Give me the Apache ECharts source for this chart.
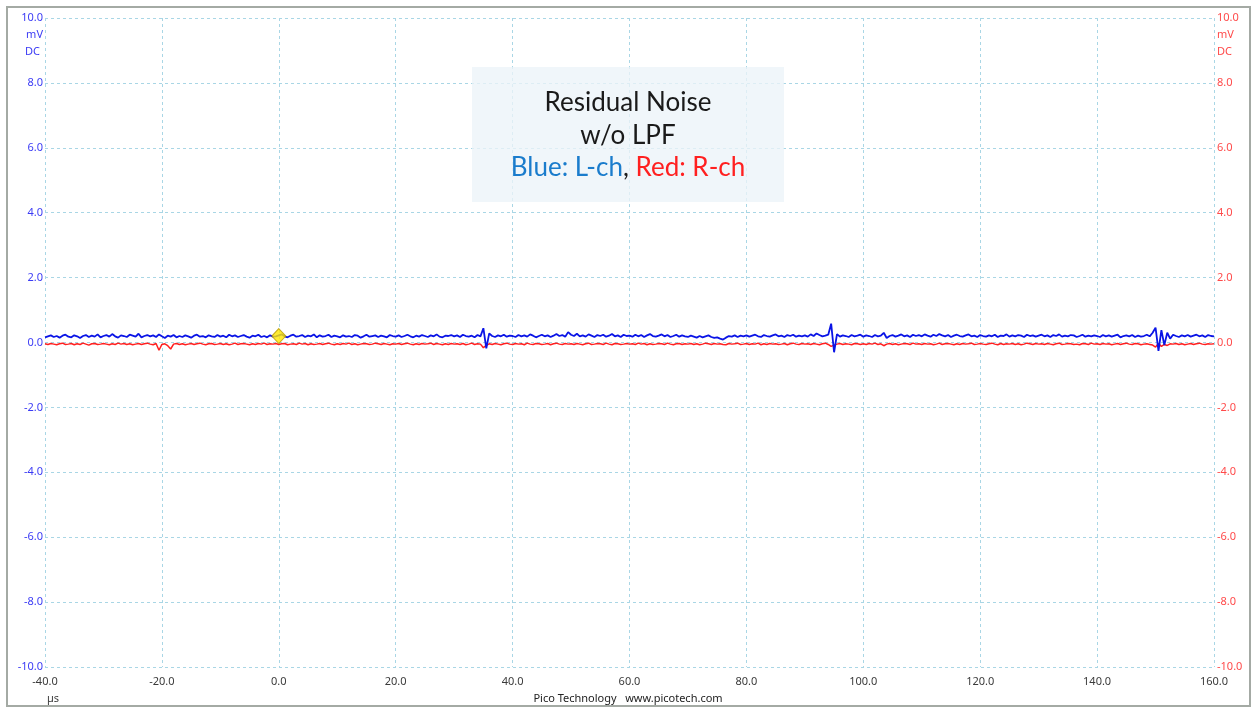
<!DOCTYPE html>
<html>
<head>
<meta charset="utf-8">
<script src="https://cdn.jsdelivr.net/npm/echarts@6/dist/echarts.min.js"></script>
<style>html,body{margin:0;padding:0;background:#fff;}#c{width:1253px;height:708px;}</style>
</head>
<body>
<div id="c"></div>
<script>
// Time axis (µs) and ticks
var xTicks = [-40, -20, 0, 20, 40, 60, 80, 100, 120, 140, 160];
var yTicks = [-10, -8, -6, -4, -2, 0, 2, 4, 6, 8, 10];
var tStart = -40, tStep = 0.5;

// Blue: L-ch, in hundredths of mV
var blueL = [
16,19,22,17,20,15,21,24,18,16,22,19,14,20,23,17,21,18,25,16,
20,23,18,26,19,15,22,20,17,24,21,18,27,16,20,23,19,22,17,25,
19,14,21,18,23,16,20,17,22,19,15,21,24,18,20,16,22,19,17,23,
18,21,16,24,19,22,17,20,23,18,15,21,19,24,17,20,16,22,18,19,
22,25,19,16,21,24,18,20,23,17,21,19,25,16,22,18,20,24,17,21,
19,16,22,18,20,17,23,21,15,19,24,18,20,22,17,21,19,16,23,20,
18,22,17,20,24,19,16,21,18,23,20,17,22,19,25,18,16,21,20,23,
19,22,17,24,20,18,21,16,23,19,44,-18,28,20,17,22,19,24,18,21,
20,17,23,19,22,18,25,21,16,20,24,19,22,17,21,26,20,23,18,32,
24,20,27,19,22,18,25,21,17,23,20,24,18,21,26,19,22,17,24,20,
21,18,24,19,23,17,22,26,20,18,21,25,19,23,17,20,24,18,22,19,
17,21,18,15,20,16,19,22,17,14,16,12,9,15,20,18,22,17,21,19,
22,18,21,24,19,17,23,20,18,22,25,19,21,17,23,20,24,18,21,19,
22,18,25,20,28,23,19,21,24,58,-30,26,18,22,20,17,23,19,21,24,
18,22,20,17,23,19,21,30,14,20,23,18,21,25,19,22,17,24,20,23,
19,25,21,18,24,20,26,22,19,23,17,21,24,20,18,22,25,19,21,17,
23,20,18,22,19,24,17,21,20,25,18,22,19,23,21,17,24,20,22,18,
21,24,19,22,17,23,20,25,18,21,19,23,22,17,20,24,18,21,19,22,
20,17,23,19,22,18,21,24,16,20,22,19,23,17,21,18,20,24,19,30,
46,-26,38,-8,30,12,24,20,17,22,19,23,18,21,24,19,22,17,23,20,
19
];

// Red: R-ch, in hundredths of mV
var redR = [
-4,-6,-3,-5,-7,-4,-2,-6,-5,-3,-7,-4,-6,-2,-5,-8,-4,-3,-6,-5,
-3,-5,-7,-4,-6,-2,-5,-3,-6,-4,-7,-5,-3,-6,-4,-2,-5,-7,-3,-24,
-6,-4,-10,-20,-5,-3,-6,-4,-7,-5,-3,-6,-4,-2,-5,-7,-4,-3,-6,-5,
-3,-6,-4,-7,-5,-2,-6,-4,-3,-5,-7,-4,-6,-3,-5,-2,-6,-4,-5,-3,
-6,-4,-3,-7,-5,-4,-6,-2,-5,-3,-7,-4,-6,-5,-3,-6,-4,-2,-5,-7,
-4,-6,-3,-5,-2,-6,-4,-7,-5,-3,-4,-6,-5,-2,-4,-6,-3,-5,-7,-4,
-5,-3,-6,-4,-2,-5,-7,-4,-6,-3,-5,-4,-2,-6,-3,-5,-7,-4,-6,-3,
-5,-4,-6,-3,-7,-5,-2,-6,-4,-5,-16,-9,-4,-6,-3,-5,-7,-4,-2,-5,
-6,-3,-5,-4,-7,-2,-5,-6,-3,-4,-6,-5,-3,-7,-4,-2,-5,-6,-3,-5,
-4,-6,-3,-5,-7,-4,-2,-6,-5,-3,-4,-6,-2,-5,-7,-3,-4,-6,-5,-3,
-5,-4,-6,-2,-5,-3,-7,-4,-6,-5,-3,-4,-6,-2,-5,-7,-4,-3,-6,-4,
-5,-3,-6,-4,-7,-5,-2,-4,-6,-3,-5,-4,-6,-7,-3,-5,-4,-2,-6,-5,
-3,-6,-4,-5,-2,-7,-4,-6,-3,-5,-4,-6,-5,-3,-7,-4,-2,-5,-6,-3,
-5,-4,-6,-3,-5,-7,-4,-2,-6,-12,-8,-5,-3,-6,-4,-5,-7,-3,-4,-6,
-4,-6,-3,-5,-2,-6,-4,-10,-5,-3,-6,-4,-7,-5,-3,-4,-6,-2,-5,-4,
-6,-3,-5,-4,-7,-5,-2,-6,-4,-3,-5,-7,-4,-6,-3,-5,-4,-2,-6,-5,
-3,-5,-6,-4,-2,-5,-7,-3,-6,-4,-5,-3,-6,-4,-7,-5,-2,-4,-6,-3,
-5,-4,-6,-3,-5,-7,-4,-2,-6,-5,-3,-4,-6,-5,-7,-3,-4,-6,-2,-5,
-4,-6,-3,-5,-4,-7,-5,-3,-6,-4,-2,-5,-6,-3,-4,-7,-5,-4,-6,-8,
-14,-3,-12,-6,-9,-4,-5,-3,-6,-4,-7,-5,-3,-6,-4,-2,-5,-6,-4,-5,
-4
];

// Trigger marker
var markerX = [0];
var markerY = [0.2];

function toPairs(arr) {
  return arr.map(function (v, i) { return [tStart + i * tStep, v / 100]; });
}

var chart = echarts.init(document.getElementById('c'), null, {renderer: 'canvas'});
var lblFont = '"Noto Sans", "Open Sans", sans-serif';
var titleFont = '26px Lato, "Noto Sans", sans-serif';
var gridColor = '#a9d6e5';

chart.setOption({
  backgroundColor: '#ffffff',
  animation: false,
  grid: {left: 45, right: 39, top: 18, bottom: 41, containLabel: false},
  xAxis: {
    type: 'value', min: xTicks[0], max: xTicks[xTicks.length - 1], interval: 20,
    axisLine: {show: false}, axisTick: {show: false},
    splitLine: {show: true, lineStyle: {color: gridColor, type: [3, 3], width: 1}},
    axisLabel: {color: '#3a3a3a', fontSize: 11, fontFamily: lblFont, margin: 9,
      formatter: function (v) { return v.toFixed(1); }}
  },
  yAxis: [{
    type: 'value', min: yTicks[0], max: yTicks[yTicks.length - 1], interval: 2, position: 'left',
    axisLine: {show: false}, axisTick: {show: false},
    splitLine: {show: true, lineStyle: {color: gridColor, type: [3, 3], width: 1}},
    axisLabel: {color: '#3b3bf5', fontSize: 11, fontFamily: lblFont, margin: 2,
      formatter: function (v) { return v.toFixed(1); }}
  }, {
    type: 'value', min: yTicks[0], max: yTicks[yTicks.length - 1], interval: 2, position: 'right',
    axisLine: {show: false}, axisTick: {show: false}, splitLine: {show: false},
    axisLabel: {color: '#ff4a4a', fontSize: 11, fontFamily: lblFont, margin: 3,
      formatter: function (v) { return v.toFixed(1); }}
  }],
  series: [{
    name: 'R-ch', type: 'line', data: toPairs(redR), yAxisIndex: 1,
    showSymbol: false, lineStyle: {color: '#ff2020', width: 1.5}, z: 2
  }, {
    name: 'L-ch', type: 'line', data: toPairs(blueL),
    showSymbol: false, lineStyle: {color: '#0a14e6', width: 1.8}, z: 3
  }, {
    type: 'scatter', data: markerX.map(function (x, i) { return [x, markerY[i]]; }),
    symbol: 'diamond', symbolSize: [14, 15],
    itemStyle: {color: '#ffe600', borderColor: '#b89a00', borderWidth: 1}, z: 5
  }],
  graphic: [
    {type: 'rect', shape: {x: 7, y: 7, width: 1243, height: 699},
      style: {fill: 'none', stroke: '#a4aaa4', lineWidth: 2}, silent: true},
    {type: 'rect', shape: {x: 472, y: 67, width: 312, height: 135},
      style: {fill: 'rgba(236,243,249,0.78)'}, z: 10, silent: true},
    {type: 'text', x: 628, y: 103, z: 11, style: {text: 'Residual Noise', fill: '#1a1a1a',
      font: titleFont, textAlign: 'center', textVerticalAlign: 'middle'}},
    {type: 'text', x: 628, y: 136, z: 11, style: {text: 'w/o LPF', fill: '#1a1a1a',
      font: titleFont, textAlign: 'center', textVerticalAlign: 'middle'}},
    {type: 'text', x: 628, y: 168, z: 11, style: {
      text: '{b|Blue: L-ch}{k|, }{r|Red: R-ch}', textAlign: 'center', textVerticalAlign: 'middle',
      font: titleFont,
      rich: {
        b: {fill: '#1a7ccc', font: titleFont},
        k: {fill: '#1a1a1a', font: titleFont},
        r: {fill: '#ff2020', font: titleFont}
      }}},
    {type: 'text', x: 43, y: 35, style: {text: 'mV', fill: '#3b3bf5', font: '11px ' + lblFont,
      textAlign: 'right', textVerticalAlign: 'middle'}},
    {type: 'text', x: 40, y: 52, style: {text: 'DC', fill: '#3b3bf5', font: '11px ' + lblFont,
      textAlign: 'right', textVerticalAlign: 'middle'}},
    {type: 'text', x: 1217, y: 35, style: {text: 'mV', fill: '#ff4a4a', font: '11px ' + lblFont,
      textAlign: 'left', textVerticalAlign: 'middle'}},
    {type: 'text', x: 1217, y: 52, style: {text: 'DC', fill: '#ff4a4a', font: '11px ' + lblFont,
      textAlign: 'left', textVerticalAlign: 'middle'}},
    {type: 'text', x: 47, y: 699, style: {text: 'µs', fill: '#404040', font: '11px ' + lblFont,
      textAlign: 'left', textVerticalAlign: 'middle'}},
    {type: 'text', x: 628, y: 699, style: {text: 'Pico Technology   www.picotech.com', fill: '#222222',
      font: '11px ' + lblFont, textAlign: 'center', textVerticalAlign: 'middle'}}
  ]
});
</script>
</body>
</html>
